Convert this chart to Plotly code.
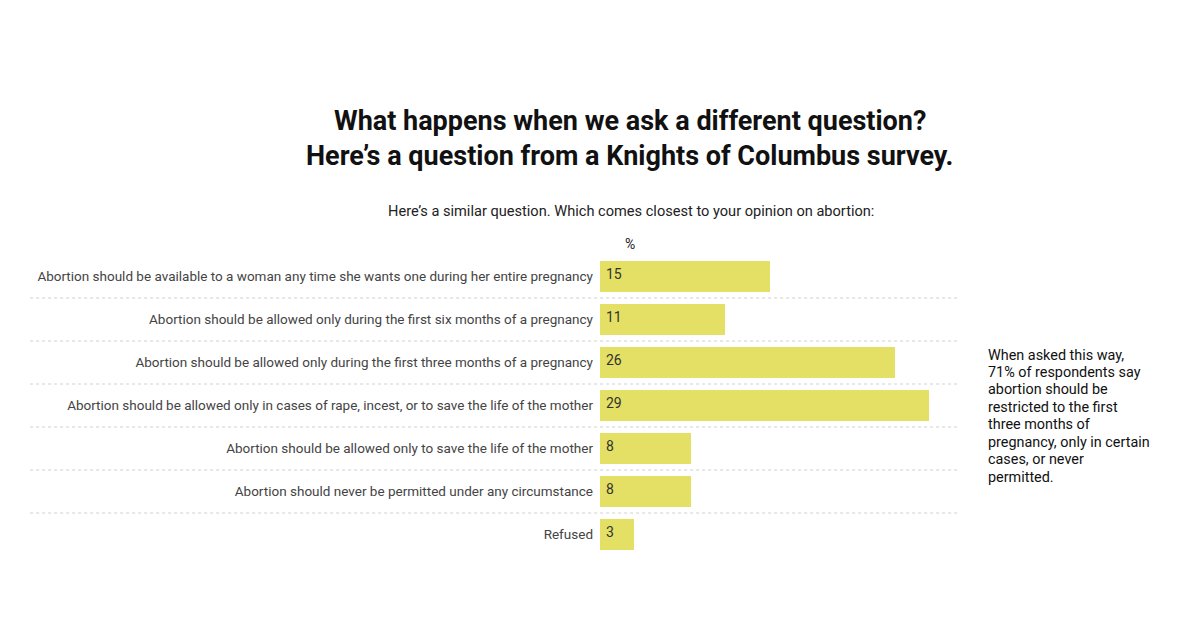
import plotly.graph_objects as go

categories = [
    "Abortion should be available to a woman any time she wants one during her entire pregnancy",
    "Abortion should be allowed only during the first six months of a pregnancy",
    "Abortion should be allowed only during the first three months of a pregnancy",
    "Abortion should be allowed only in cases of rape, incest, or to save the life of the mother",
    "Abortion should be allowed only to save the life of the mother",
    "Abortion should never be permitted under any circumstance",
    "Refused",
]
values = [15, 11, 26, 29, 8, 8, 3]

title_lines = ["What happens when we ask a different question?",
               "Here’s a question from a Knights of Columbus survey."]
subtitle_text = "Here’s a similar question. Which comes closest to your opinion on abortion:"
note_lines = ["When asked this way,", "71% of respondents say", "abortion should be",
              "restricted to the first", "three months of", "pregnancy, only in certain",
              "cases, or never", "permitted."]

FONT = "Roboto, 'Noto Sans', sans-serif"
idx = list(range(len(categories)))

fig = go.Figure(go.Bar(
    x=values, y=idx, orientation="h",
    marker=dict(color="#e3e065", line=dict(width=0)),
    width=0.7,
    hoverinfo="skip",
))

shapes = []
for i in range(len(categories) - 1):
    shapes.append(dict(type="line", xref="paper", yref="y",
                       x0=-1.583, x1=1.0, y0=i + 0.5, y1=i + 0.5,
                       line=dict(color="#d0d0d0", width=1, dash="dot"), layer="below"))

annotations = []
# value labels inside bars, anchored to axis origin
for i, v in zip(idx, values):
    annotations.append(dict(text=str(v), xref="x", yref="y", x=0, y=i,
                            xanchor="left", yanchor="middle", xshift=4, yshift=3,
                            showarrow=False,
                            font=dict(family=FONT, size=14, color="#333333")))

for k, line in enumerate(title_lines):
    annotations.append(dict(text=f"<b>{line}</b>", xref="paper", yref="paper",
                            x=0.083, y=1.0, yshift=134 - 35 * k,
                            xanchor="center", yanchor="middle", showarrow=False,
                            font=dict(family=FONT, size=27, color="#111111")))

for k, line in enumerate(note_lines):
    annotations.append(dict(text=line, xref="paper", yref="paper",
                            x=1.0, xshift=26, y=1.0, yshift=-(100 + 17.43 * k),
                            xanchor="left", yanchor="middle", showarrow=False, align="left",
                            font=dict(family=FONT, size=14.4, color="#111111")))

annotations += [
    dict(text=subtitle_text, xref="paper", yref="paper", x=0.086, y=1.0, yshift=44,
         xanchor="center", yanchor="middle", showarrow=False,
         font=dict(family=FONT, size=14.6, color="#222222")),
    dict(text="%", xref="paper", yref="paper", x=0.083, y=1.0, yshift=11,
         xanchor="center", yanchor="middle", showarrow=False,
         font=dict(family=FONT, size=14, color="#222222")),
]

fig.update_layout(
    width=1200, height=641,
    margin=dict(l=592, r=248, t=247, b=93),
    paper_bgcolor="white", plot_bgcolor="white",
    showlegend=False,
    xaxis=dict(range=[0, 31.76], visible=False, fixedrange=True),
    yaxis=dict(range=[6.5, -0.5], tickmode="array", tickvals=idx, ticktext=categories,
               showgrid=False, zeroline=False, showline=False, ticks="",
               ticklabelstandoff=6, automargin=False,
               tickfont=dict(family=FONT, size=13.5, color="#444444")),
    shapes=shapes,
    annotations=annotations,
    bargap=0,
)

fig.write_html("out.html")
